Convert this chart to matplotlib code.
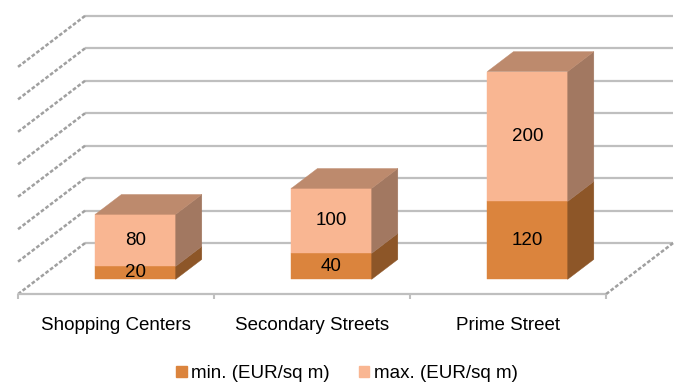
import matplotlib
matplotlib.use('Agg')
import matplotlib.pyplot as plt
from matplotlib.patches import Polygon, Patch

plt.rc('font', family='Liberation Sans', size=13.5)

categories = ['Shopping Centers', 'Secondary Streets', 'Prime Street']
min_price = [20, 40, 120]
max_price = [80, 100, 200]
series_names = ['min. (EUR/sq m)', 'max. (EUR/sq m)']

y_max = 350
y_step = 50

# colours: front / side / top of each stacked series
min_front, min_side = '#DB843D', '#8D5628'
max_front, max_side, max_top = '#F9B692', '#A27861', '#BD8A6D'
grid_col = '#BFBFBF'
wall_col = '#A0A0A0'

# oblique 3d projection: full depth moves right and up
depth_dx = 0.342   # in category units
depth_dy = 78.6    # in value units
bar_d0, bar_d1 = 0.29, 0.68
bar_width = 0.41


def proj(x, v, d):
    return (x + d * depth_dx, v + d * depth_dy)


def line3d(ax, a, b, **kw):
    p, q = proj(*a), proj(*b)
    ax.plot([p[0], q[0]], [p[1], q[1]], solid_capstyle='butt', **kw)


def box(ax, xc, v0, v1, front, side, top=None):
    x0, x1 = xc - bar_width / 2, xc + bar_width / 2
    faces = [
        ([(x0, v0, bar_d0), (x1, v0, bar_d0), (x1, v1, bar_d0), (x0, v1, bar_d0)], front),
        ([(x1, v0, bar_d0), (x1, v0, bar_d1), (x1, v1, bar_d1), (x1, v1, bar_d0)], side),
    ]
    if top is not None:
        faces.append(([(x0, v1, bar_d0), (x1, v1, bar_d0), (x1, v1, bar_d1), (x0, v1, bar_d1)], top))
    for pts, col in faces:
        ax.add_patch(Polygon([proj(*p) for p in pts], closed=True,
                             facecolor=col, edgecolor=col, lw=0.3, zorder=3))


fig = plt.figure(figsize=(6.78, 3.85), dpi=100)
ax = fig.add_axes([0, 0, 1, 1])
ax.set_xlim(-0.592, 2.867)
ax.set_ylim(-140, 453)
ax.axis('off')

n = len(categories)
left, right = -0.5, n - 0.5

# back wall and side wall gridlines
for v in range(0, y_max + 1, y_step):
    line3d(ax, (left, v, 1), (right, v, 1), color=grid_col, lw=1.6, zorder=1)
    line3d(ax, (left, v, 0), (left, v, 1), color=wall_col, lw=1.8,
           linestyle=(0, (1.5, 0.8)), zorder=1)

# floor edges
line3d(ax, (left, 0, 0), (right, 0, 0), color=grid_col, lw=1.6, zorder=2)
line3d(ax, (right, 0, 0), (right, 0, 1), color=wall_col, lw=1.8,
       linestyle=(0, (1.5, 0.8)), zorder=2)
for i in range(n + 1):
    line3d(ax, (left + i, 0, 0), (left + i, -7, 0), color=grid_col, lw=1.5, zorder=2)

# stacked 3d bars
for i in range(n):
    lo, hi = min_price[i], max_price[i]
    box(ax, i, 0, lo, min_front, min_side)
    box(ax, i, lo, lo + hi, max_front, max_side, max_top)
    cx, _ = proj(i, 0, bar_d0)
    ax.text(cx, proj(i, lo / 2, bar_d0)[1], str(lo), ha='center', va='center', zorder=5)
    ax.text(cx, proj(i, lo + hi / 2, bar_d0)[1], str(hi), ha='center', va='center', zorder=5)
    ax.text(i, -48, categories[i], ha='center', va='center')

handles = [Patch(color=min_front), Patch(color=max_front)]
fig.legend(handles, series_names, loc='center', bbox_to_anchor=(0.512, 0.029),
           ncol=2, frameon=False, handlelength=0.55, handleheight=0.55,
           handletextpad=0.25, columnspacing=1.55, borderpad=0)

fig.savefig('out.png', dpi=100)
